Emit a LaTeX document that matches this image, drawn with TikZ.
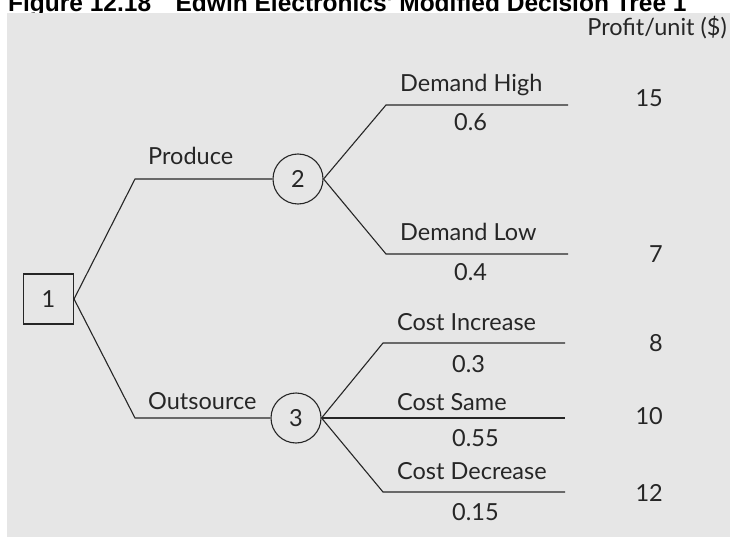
\documentclass[tikz,border=0pt]{standalone}
\usepackage{fontspec}
\setmainfont{Lato}
\newfontfamily\titfont{Liberation Sans}
\usetikzlibrary{positioning}
\definecolor{hatter}{HTML}{E6E6E6}
\definecolor{tinta}{HTML}{262626}
\tikzset{
  dont/.style={draw=tinta,line width=1.1pt,minimum size=50pt,inner sep=0pt,text=tinta},
  vel/.style={circle,draw=tinta,line width=1.1pt,minimum size=50pt,inner sep=0pt,text=tinta},
  ag/.style={draw=tinta,line width=1.1pt},
  fel/.style={anchor=base west,text=tinta,inner sep=0pt},
  ert/.style={anchor=base east,text=tinta,inner sep=0pt},
}
\begin{document}
\begin{tikzpicture}[x=1pt,y=-1pt,font=\fontsize{23.5}{28}\selectfont]
  \useasboundingbox (0,0) rectangle (730,537);
  \node[anchor=base west,inner sep=0pt,font=\titfont\fontsize{24.5}{29}\selectfont\bfseries]
    (cim) at (8,12) {Figure 12.18\quad Edwin Electronics' Modified Decision Tree 1};
  \fill[hatter] (7,13) rectangle (730,537);
  % csomopontok
  \node[dont] (d1) at (48.5,299) {1};
  \node[vel] (c2) at (298,179) {2};
  \node[vel] (c3) at (296,418) {3};
  % torespontok
  \coordinate (pa) at (135,179);
  \coordinate (oa) at (135,418);
  \coordinate (ha) at (386,105);  \coordinate (hb) at (568,105);
  \coordinate (la) at (386,254);  \coordinate (lb) at (568,254);
  \coordinate (ia) at (383,343);  \coordinate (ib) at (565,343);
  \coordinate (sb) at (565,418);
  \coordinate (da) at (383,492);  \coordinate (db) at (565,492);
  % agak
  \draw[ag] (d1.east) -- (pa) -- (c2.west);
  \draw[ag] (d1.east) -- (oa) -- (c3.west);
  \draw[ag] (c2.east) -- (ha) -- (hb);
  \draw[ag] (c2.east) -- (la) -- (lb);
  \draw[ag] (c3.east) -- (ia) -- (ib);
  \draw[ag] (c3.east) -- (sb);
  \draw[ag] (c3.east) -- (da) -- (db);
  % feliratok
  \node[fel] (tp) at (148,165) {Produce};
  \node[fel] (to) at (148,409) {Outsource};
  \node[fel] (th) at (400,91.5) {Demand High};
  \node[fel] (ph) at (454,131) {0.6};
  \node[fel] (tl) at (400,240.5) {Demand Low};
  \node[fel] (pl) at (454,280) {0.4};
  \node[fel] (ti) at (397,330.5) {Cost Increase};
  \node[fel] (pi) at (452,372.5) {0.3};
  \node[fel] (ts) at (397,410) {Cost Same};
  \node[fel] (ps) at (452,446) {0.55};
  \node[fel] (td) at (397,479.5) {Cost Decrease};
  \node[fel] (pd) at (452,520.5) {0.15};
  % ertekek
  \node[ert] (fej) at (727,36) {Profit/unit (\$)};
  \node[ert] (v1) at (663,107) {15};
  \node[ert] (v2) at (663,262.5) {7};
  \node[ert] (v3) at (663,351.5) {8};
  \node[ert] (v4) at (663,424.5) {10};
  \node[ert] (v5) at (663,501.5) {12};
\end{tikzpicture}
\end{document}
